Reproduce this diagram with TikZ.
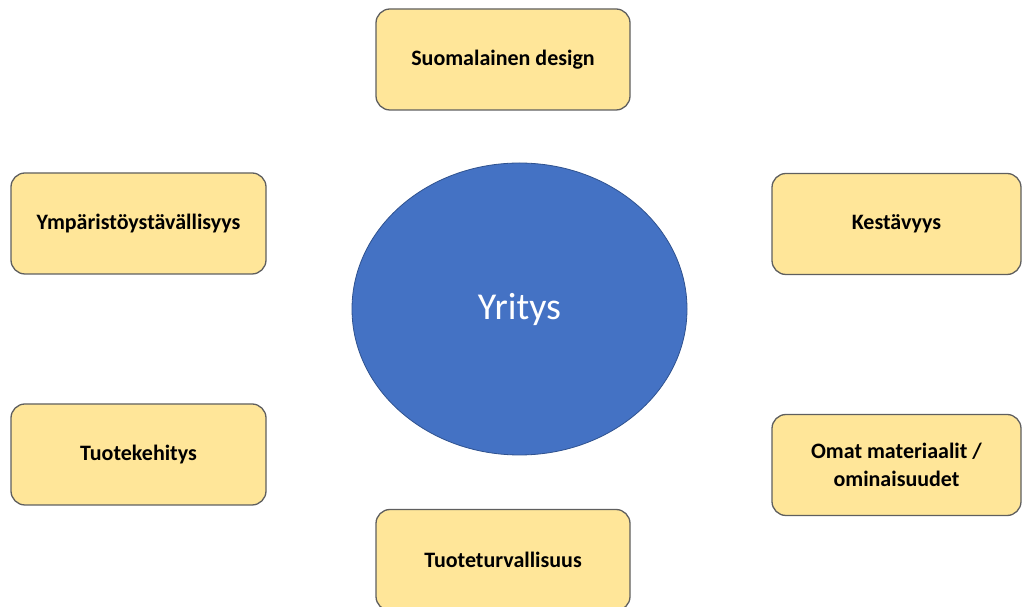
\documentclass[tikz,border=0pt]{standalone}
\usepackage{fontspec}
\usetikzlibrary{shapes.geometric}
\setmainfont{Carlito}
\definecolor{boxfill}{HTML}{FFE699}
\definecolor{boxline}{HTML}{5F5F5F}
\definecolor{ellfill}{HTML}{4472C4}
\definecolor{ellline}{HTML}{2F528F}
\tikzset{
  topic/.style={draw=boxline, fill=boxfill, line width=1.3pt, rounded corners=14pt,
    font=\bfseries\fontsize{22}{28}\selectfont, align=center, inner sep=0pt},
}
\begin{document}
\begin{tikzpicture}[x=1pt,y=1pt]
\useasboundingbox (0,0) rectangle (1022,607);
\clip (0,0) rectangle (1022,607);
% y' = 607 - y
\node[topic, minimum width=254pt, minimum height=101pt] (suomi) at (503,547.5) {\raisebox{-2pt}{Suomalainen design}};
\node[topic, minimum width=255pt, minimum height=101pt] (ymp) at (138.5,383.5) {\raisebox{-2pt}{Ympäristöystävällisyys}};
\node[topic, minimum width=249pt, minimum height=101pt] (kest) at (896.5,383) {\raisebox{-2pt}{Kestävyys}};
\node[topic, minimum width=255pt, minimum height=101pt] (tuote) at (138.5,152.5) {\raisebox{-2pt}{Tuotekehitys}};
\node[topic, minimum width=249pt, minimum height=101pt] (omat) at (896.5,142) {Omat materiaalit /\\ominaisuudet};
\node[topic, minimum width=254pt, minimum height=101pt] (turva) at (503,47) {Tuoteturvallisuus};
\node[ellipse, draw=ellline, fill=ellfill, line width=0.8pt, minimum width=335pt, minimum height=292pt,
  text=white, font=\fontsize{38}{44}\selectfont, inner sep=0pt] (yritys) at (519.5,298) {\raisebox{-6pt}{Yritys}};
\end{tikzpicture}
\end{document}
